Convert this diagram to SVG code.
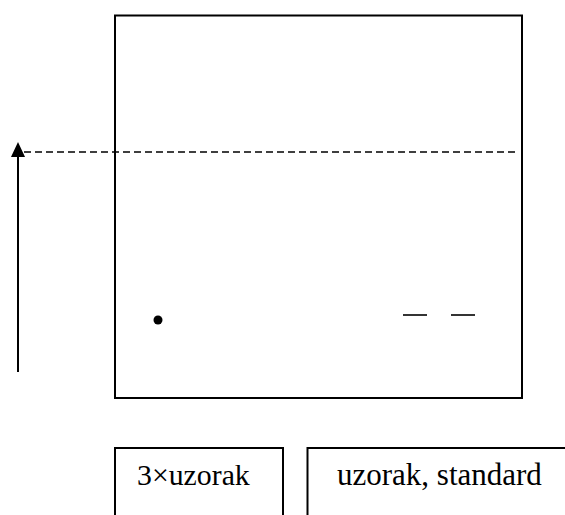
<svg xmlns="http://www.w3.org/2000/svg" width="565" height="515" viewBox="0 0 565 515">
<style>
.ln{stroke:#000;stroke-width:2;fill:none}
.lbl{font-family:"Liberation Serif","Times New Roman",serif;font-size:31px;fill:#000}
.lbl-a{font-size:29.8px}
</style>
<rect width="565" height="515" fill="#fff"/>
<g id="main-box">
<rect class="ln" x="115" y="15.5" width="407" height="382.5"/>
<circle cx="158" cy="320" r="4.5" fill="#000"/>
<line x1="403" y1="315" x2="427" y2="315" stroke="#000" stroke-width="1.6"/>
<line x1="451" y1="315" x2="475" y2="315" stroke="#000" stroke-width="1.6"/>
</g>
<g id="connectors">
<line x1="24" y1="152" x2="519" y2="152" stroke="#000" stroke-width="1.5" stroke-dasharray="7,4"/>
<line x1="18" y1="372" x2="18" y2="155" stroke="#000" stroke-width="2"/>
<polygon points="18,142 11,157 25,157" fill="#000"/>
</g>
<g id="box-3x">
<path class="ln" d="M115,515 V448 H283 V515"/>
<text class="lbl lbl-a" x="137" y="485">3×uzorak</text>
</g>
<g id="box-standard">
<path class="ln" d="M307.5,515 V448 H565"/>
<text class="lbl" x="337" y="485">uzorak, standard</text>
</g>
</svg>
